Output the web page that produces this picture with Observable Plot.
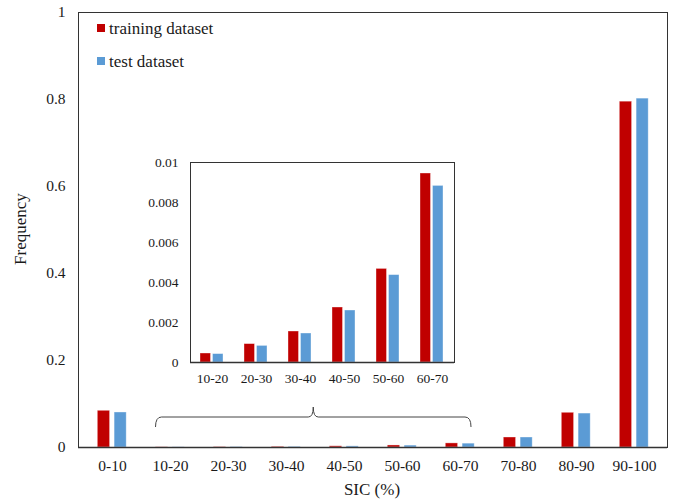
<!DOCTYPE html>
<html><head><meta charset="utf-8">
<script src="https://cdn.jsdelivr.net/npm/d3@7"></script>
<script src="https://cdn.jsdelivr.net/npm/@observablehq/plot@0.6"></script>
<style>
body{margin:0;background:#fff;}
#wrap{position:relative;width:674px;height:499px;font-family:"Liberation Serif","Times New Roman",serif;color:#1a1a1a;overflow:hidden;}
#wrap svg{position:absolute;}
.lab{position:absolute;font-size:17px;white-space:nowrap;line-height:17px;}
.sw{position:absolute;width:8px;height:8px;}
</style></head><body><div id="wrap"></div>
<script>
const categories = ["0-10","10-20","20-30","30-40","40-50","50-60","60-70","70-80","80-90","90-100"];
const training = [0.0844, 0.00045, 0.00092, 0.00155, 0.00275, 0.00468, 0.00945, 0.023, 0.0798, 0.795];
const test     = [0.0805, 0.00042, 0.00083, 0.00145, 0.0026, 0.00437, 0.00883, 0.023, 0.078, 0.802];
const insetCategories = ["10-20","20-30","30-40","40-50","50-60","60-70"];
const mainTicks = [0, 0.2, 0.4, 0.6, 0.8, 1];
const insetTicks = [0, 0.002, 0.004, 0.006, 0.008, 0.01];
const seriesNames = ["training dataset", "test dataset"];
const RED = "#C00000", BLUE = "#5B9BD5";
const FONT = '"Liberation Serif",serif';

const rows = categories.map((c, i) => ({category: c, training: training[i], test: test[i]}));
const insetRows = rows.filter(r => insetCategories.includes(r.category));

const wrap = document.getElementById("wrap");
const barStyle = {stroke: "white", strokeOpacity: 0.45, strokeWidth: 0.8};

const main = Plot.plot({
  width: 674, height: 499,
  marginLeft: 78, marginRight: 7, marginTop: 12, marginBottom: 52,
  style: {fontFamily: FONT, fontSize: "15.5px", color: "#1a1a1a", background: "transparent", overflow: "visible"},
  x: {domain: categories, padding: 0, label: null, tickSize: 0, tickPadding: 12},
  y: {domain: [0, 1], ticks: mainTicks, tickFormat: d => String(d), label: null, tickSize: 0, tickPadding: 13},
  marks: [
    Plot.barY(rows, {x: "category", y: "training", fill: RED, insetLeft: 14.3, insetRight: 31.4, ...barStyle}),
    Plot.barY(rows, {x: "category", y: "test", fill: BLUE, insetLeft: 31.1, insetRight: 14.8, ...barStyle}),
    Plot.frame({stroke: "#333"}),
    Plot.ruleY([0], {stroke: "#333", strokeWidth: 1.5})
  ]
});
main.style.left = "0px"; main.style.top = "0px";
wrap.appendChild(main);

// brace spanning the inset categories, positioned from the x scale
{
  const xs = main.scale("x"), ys = main.scale("y");
  const x1 = xs.apply(insetCategories[0]) + 14.5;
  const x2 = xs.apply(insetCategories[insetCategories.length - 1]) + xs.bandwidth - 18;
  const xm = (x1 + x2) / 2;
  const y0 = ys.apply(0);
  const yb = y0 - 20, yh = y0 - 30, yt = y0 - 40;
  const p = `M${x1},${yb} Q${x1},${yh} ${x1+6},${yh} L${xm-5},${yh} Q${xm},${yh} ${xm},${yt} Q${xm},${yh} ${xm+5},${yh} L${x2-6},${yh} Q${x2},${yh} ${x2},${yb}`;
  d3.select(main).append("path").attr("d", p).attr("fill", "none").attr("stroke", "#444").attr("stroke-width", 1);
}

const inset = Plot.plot({
  width: 344, height: 245,
  marginLeft: 70, marginRight: 10, marginTop: 12, marginBottom: 33,
  style: {fontFamily: FONT, fontSize: "13.5px", color: "#1a1a1a", background: "transparent", overflow: "visible"},
  x: {domain: insetCategories, padding: 0, label: null, tickSize: 0, tickPadding: 11},
  y: {domain: [0, 0.01], ticks: insetTicks, tickFormat: d => String(d), label: null, tickSize: 0, tickPadding: 12},
  marks: [
    Plot.barY(insetRows, {x: "category", y: "training", fill: RED, insetLeft: 10, insetRight: 23.5, ...barStyle}),
    Plot.barY(insetRows, {x: "category", y: "test", fill: BLUE, insetLeft: 22.5, insetRight: 11, ...barStyle}),
    Plot.frame({stroke: "#333"}),
    Plot.ruleY([0], {stroke: "#333", strokeWidth: 1.5})
  ]
});
inset.style.left = "120px"; inset.style.top = "150px";
wrap.appendChild(inset);

// legend
[[RED, 20], [BLUE, 53]].forEach(([col, top], i) => {
  const sw = document.createElement("div");
  sw.className = "sw"; sw.style.background = col; sw.style.left = "97px"; sw.style.top = (top + 4) + "px";
  wrap.appendChild(sw);
  const t = document.createElement("div");
  t.className = "lab"; t.textContent = seriesNames[i]; t.style.left = "109px"; t.style.top = top + "px";
  wrap.appendChild(t);
});

// axis titles
const xt = document.createElement("div");
xt.className = "lab"; xt.textContent = "SIC (%)";
xt.style.left = "372px"; xt.style.top = "481px"; xt.style.transform = "translateX(-50%)";
wrap.appendChild(xt);
const yt = document.createElement("div");
yt.className = "lab"; yt.textContent = "Frequency";
yt.style.left = "20px"; yt.style.top = "229px"; yt.style.transform = "translate(-50%,-50%) rotate(-90deg)";
wrap.appendChild(yt);
</script></body></html>
